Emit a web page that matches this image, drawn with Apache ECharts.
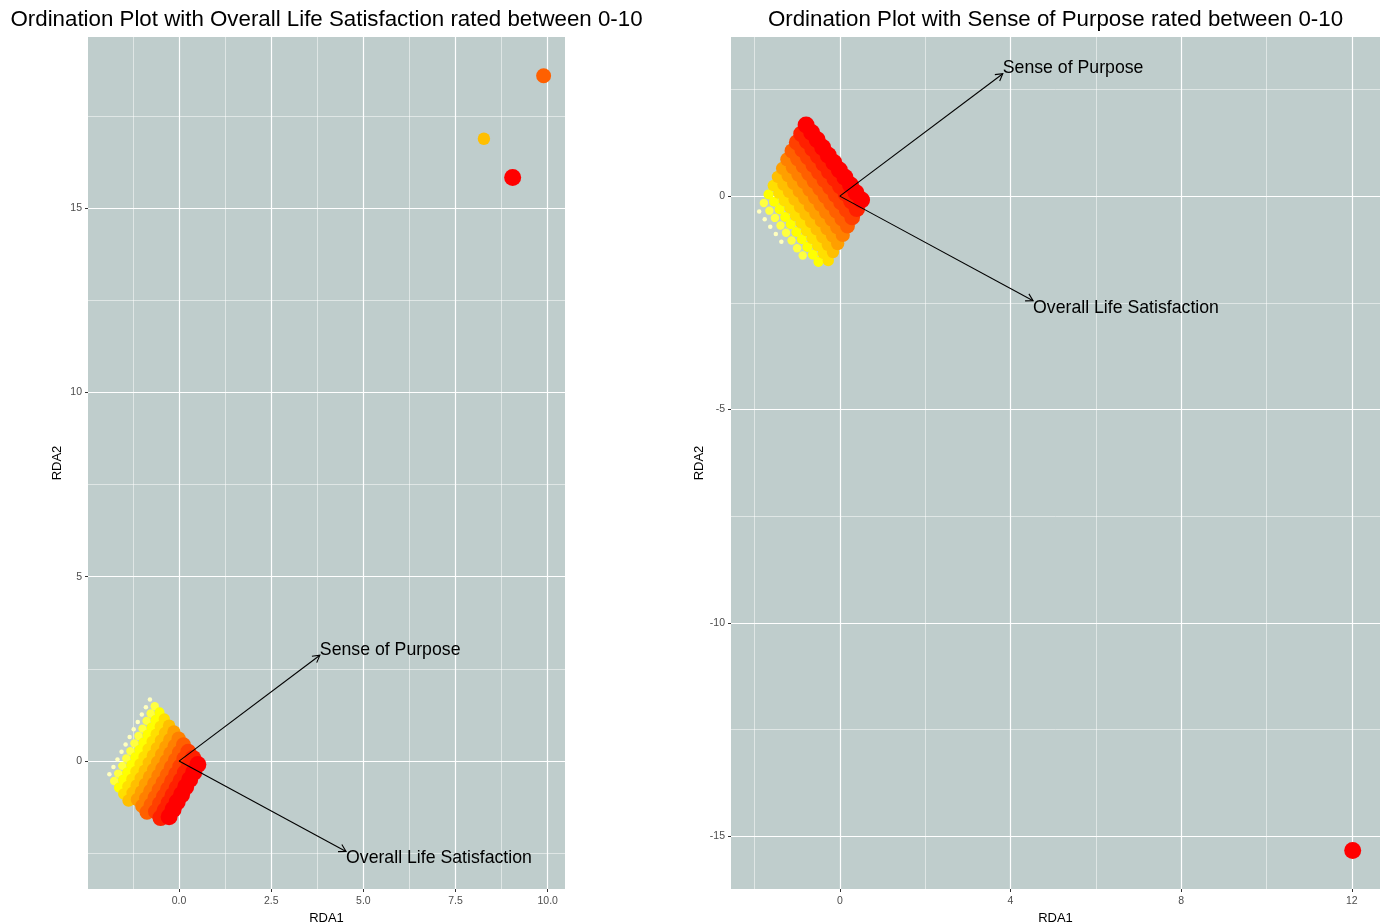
<!DOCTYPE html>
<html>
<head>
<meta charset="utf-8">
<script src="https://cdn.jsdelivr.net/npm/echarts@6.0.0/dist/echarts.min.js"></script>
<style>
  html, body { margin: 0; padding: 0; background: #ffffff; }
  #chart { width: 1389px; height: 924px; }
</style>
</head>
<body>
<div id="chart"></div>
<script>
// ---- Site scores (RDA1, RDA2) with the two ratings of each site ----
// Rows grouped by Sense of Purpose rating (0..10)
const SITE_SP = [
  0, 0, 0, 0, 0,
  1, 1, 1, 1, 1, 1, 1, 1,
  2, 2, 2, 2, 2, 2, 2, 2, 2, 2,
  3, 3, 3, 3, 3, 3, 3, 3, 3, 3, 3,
  4, 4, 4, 4, 4, 4, 4, 4, 4, 4, 4,
  5, 5, 5, 5, 5, 5, 5, 5, 5, 5, 5,
  6, 6, 6, 6, 6, 6, 6, 6, 6, 6, 6,
  7, 7, 7, 7, 7, 7, 7, 7, 7, 7, 7,
  8, 8, 8, 8, 8, 8, 8, 8, 8, 8, 8,
  9, 9, 9, 9, 9, 9, 9, 9, 9, 9, 9,
  10, 10, 10, 10, 10, 10, 10, 10, 10, 10, 10
];
const SITE_LS = [
  0, 1, 2, 3, 4,
  0, 1, 2, 3, 4, 5, 6, 7,
  0, 1, 2, 3, 4, 5, 6, 7, 8, 9,
  0, 1, 2, 3, 4, 5, 6, 7, 8, 9, 10,
  0, 1, 2, 3, 4, 5, 6, 7, 8, 9, 10,
  0, 1, 2, 3, 4, 5, 6, 7, 8, 9, 10,
  0, 1, 2, 3, 4, 5, 6, 7, 8, 9, 10,
  0, 1, 2, 3, 4, 5, 6, 7, 8, 9, 10,
  0, 1, 2, 3, 4, 5, 6, 7, 8, 9, 10,
  0, 1, 2, 3, 4, 5, 6, 7, 8, 9, 10,
  0, 1, 2, 3, 4, 5, 6, 7, 8, 9, 10
];
const SITE_RDA1 = [
  -1.89, -1.76, -1.63, -1.50, -1.37,
  -1.78, -1.65, -1.52, -1.39, -1.26, -1.13, -1.00, -0.87,
  -1.67, -1.54, -1.41, -1.28, -1.15, -1.02, -0.89, -0.76, -0.63, -0.50,
  -1.56, -1.43, -1.30, -1.17, -1.04, -0.91, -0.78, -0.65, -0.52, -0.39, -0.27,
  -1.45, -1.32, -1.19, -1.06, -0.93, -0.80, -0.67, -0.54, -0.41, -0.28, -0.16,
  -1.34, -1.21, -1.08, -0.95, -0.82, -0.69, -0.56, -0.43, -0.30, -0.17, -0.05,
  -1.23, -1.10, -0.97, -0.84, -0.71, -0.58, -0.45, -0.32, -0.19, -0.06, 0.07,
  -1.12, -0.99, -0.86, -0.73, -0.60, -0.47, -0.34, -0.21, -0.08, 0.05, 0.18,
  -1.01, -0.88, -0.75, -0.62, -0.49, -0.36, -0.23, -0.10, 0.03, 0.16, 0.29,
  -0.90, -0.77, -0.64, -0.51, -0.38, -0.25, -0.12, 0.01, 0.14, 0.27, 0.40,
  -0.79, -0.66, -0.53, -0.40, -0.27, -0.14, -0.01, 0.12, 0.25, 0.38, 0.51
];
const SITE_RDA2 = [
  -0.36, -0.54, -0.72, -0.89, -1.07,
  -0.16, -0.34, -0.51, -0.69, -0.86, -1.04, -1.22, -1.39,
  0.04, -0.13, -0.31, -0.49, -0.66, -0.84, -1.01, -1.19, -1.37, -1.54,
  0.25, 0.07, -0.11, -0.28, -0.46, -0.63, -0.81, -0.99, -1.16, -1.34, -1.51,
  0.45, 0.27, 0.10, -0.08, -0.26, -0.43, -0.61, -0.78, -0.96, -1.14, -1.31,
  0.65, 0.48, 0.30, 0.12, -0.05, -0.23, -0.40, -0.58, -0.76, -0.93, -1.11,
  0.86, 0.68, 0.50, 0.33, 0.15, -0.03, -0.20, -0.38, -0.55, -0.73, -0.91,
  1.06, 0.88, 0.71, 0.53, 0.35, 0.18, 0.00, -0.17, -0.35, -0.53, -0.70,
  1.26, 1.09, 0.91, 0.73, 0.56, 0.38, 0.21, 0.03, -0.15, -0.32, -0.50,
  1.46, 1.29, 1.11, 0.94, 0.76, 0.58, 0.41, 0.23, 0.06, -0.12, -0.30,
  1.67, 1.49, 1.32, 1.14, 0.96, 0.79, 0.61, 0.44, 0.26, 0.08, -0.09
];

// Far-out sites of each ordination
const EXTRA_LS_RDA1 = [8.27, 9.05, 9.89];
const EXTRA_LS_RDA2 = [16.88, 15.83, 18.59];
const EXTRA_LS_RATING = [4, 10, 7];
const EXTRA_SP_RDA1 = [12.02];
const EXTRA_SP_RDA2 = [-15.34];
const EXTRA_SP_RATING = [10];

// Biplot arrows for the two explanatory variables
const ARROW_NAMES = ['Sense of Purpose', 'Overall Life Satisfaction'];
const ARROW_RDA1 = [3.82, 4.53];
const ARROW_RDA2 = [2.87, -2.45];
const ARROW_LABEL_RDA2 = [3.01, -2.62];

// Axis ranges and tick values
const LEFT_X_RANGE = [-2.47, 10.47];
const LEFT_Y_RANGE = [-3.47, 19.64];
const LEFT_X_TICKS = [0, 2.5, 5, 7.5, 10];
const LEFT_X_MINOR = [-1.25, 1.25, 3.75, 6.25, 8.75];
const LEFT_Y_TICKS = [0, 5, 10, 15];
const LEFT_Y_MINOR = [-2.5, 2.5, 7.5, 12.5, 17.5];
const RIGHT_X_RANGE = [-2.55, 12.66];
const RIGHT_Y_RANGE = [-16.24, 3.73];
const RIGHT_X_TICKS = [0, 4, 8, 12];
const RIGHT_X_MINOR = [-2, 2, 6, 10];
const RIGHT_Y_TICKS = [-15, -10, -5, 0];
const RIGHT_Y_MINOR = [-12.5, -7.5, -2.5, 2.5];

const TITLES = [
  'Ordination Plot with Overall Life Satisfaction rated between 0-10',
  'Ordination Plot with Sense of Purpose rated between 0-10'
];

// Rating colour scale (heat colours, low = pale yellow, high = red)
const HEAT = ['#FFFFBF', '#FFFF40', '#FFFF00', '#FFDF00', '#FFBF00', '#FF9F00',
              '#FF8000', '#FF6000', '#FF4000', '#FF2000', '#FF0000'];

const FONT = '"Liberation Sans", Arial, Helvetica, sans-serif';
const PANEL_BG = '#BFCDCC';

function pointSize(rating) {
  return 4.5 + 12.5 * Math.sqrt(rating / 10);
}

function buildPoints(xs, ys, ratings) {
  const idx = xs.map((_, i) => i);
  idx.sort((a, b) => ratings[a] - ratings[b]);
  return idx.map(i => ({
    value: [xs[i], ys[i]],
    symbolSize: pointSize(ratings[i]),
    itemStyle: { color: HEAT[ratings[i]], opacity: 1 }
  }));
}

const leftPoints = buildPoints(
  SITE_RDA1.concat(EXTRA_LS_RDA1),
  SITE_RDA2.concat(EXTRA_LS_RDA2),
  SITE_LS.concat(EXTRA_LS_RATING));
const rightPoints = buildPoints(
  SITE_RDA1.concat(EXTRA_SP_RDA1),
  SITE_RDA2.concat(EXTRA_SP_RDA2),
  SITE_SP.concat(EXTRA_SP_RATING));

const arrowData = ARROW_NAMES.map((n, i) => [ARROW_RDA1[i], ARROW_RDA2[i], ARROW_LABEL_RDA2[i]]);

function majorAxis(dim, gridIndex, range, ticks, fmt, name) {
  const isX = dim === 'x';
  return {
    type: 'value',
    gridIndex: gridIndex,
    position: isX ? 'bottom' : 'left',
    min: range[0],
    max: range[1],
    name: name,
    nameLocation: 'middle',
    nameGap: isX ? 21 : 24,
    nameRotate: isX ? 0 : 90,
    nameTextStyle: { fontFamily: FONT, fontSize: 13, color: '#000000' },
    axisLine: { show: false, onZero: false },
    axisTick: { show: true, length: 3, customValues: ticks,
                lineStyle: { color: '#333333', width: 1 } },
    axisLabel: { show: true, customValues: ticks, margin: isX ? 7 : 6,
                 fontFamily: FONT, fontSize: 10.5, color: '#4D4D4D',
                 formatter: fmt },
    splitLine: { show: true, lineStyle: { color: '#FFFFFF', width: 1.2 } },
    minorTick: { show: false },
    minorSplitLine: { show: false },
    z: 0
  };
}

function minorAxis(dim, gridIndex, range, ticks) {
  const isX = dim === 'x';
  return {
    type: 'value',
    gridIndex: gridIndex,
    position: isX ? 'bottom' : 'left',
    min: range[0],
    max: range[1],
    axisLine: { show: false, onZero: false },
    axisTick: { show: false, customValues: ticks },
    axisLabel: { show: false, customValues: ticks },
    splitLine: { show: true, lineStyle: { color: '#FFFFFF', width: 0.5 } },
    z: 0
  };
}

const fmtOneDecimal = v => Number(v).toFixed(1);
const fmtInt = v => String(Math.round(v));

function arrowRender(params, api) {
  const o = api.coord([0, 0]);
  const t = api.coord([api.value(0), api.value(1)]);
  const lp = api.coord([api.value(0), api.value(2)]);
  const ang = Math.atan2(t[1] - o[1], t[0] - o[0]);
  const len = 8, spread = Math.PI / 6;
  const h1 = [t[0] - len * Math.cos(ang - spread), t[1] - len * Math.sin(ang - spread)];
  const h2 = [t[0] - len * Math.cos(ang + spread), t[1] - len * Math.sin(ang + spread)];
  return {
    type: 'group',
    children: [
      { type: 'line', shape: { x1: o[0], y1: o[1], x2: t[0], y2: t[1] },
        style: { stroke: '#000000', lineWidth: 1.1 } },
      { type: 'polyline', shape: { points: [h1, t, h2] },
        style: { stroke: '#000000', lineWidth: 1.1, fill: null } },
      { type: 'text', x: lp[0], y: lp[1],
        style: { text: ARROW_NAMES[params.dataIndex], textAlign: 'left',
                 textVerticalAlign: 'middle', fontFamily: FONT, fontSize: 17.7,
                 fill: '#000000' } }
    ]
  };
}

const chart = echarts.init(document.getElementById('chart'), null, { renderer: 'canvas' });

chart.setOption({
  animation: false,
  backgroundColor: '#FFFFFF',
  grid: [
    { left: 88, top: 37, width: 477, height: 852, show: true,
      backgroundColor: PANEL_BG, borderWidth: 0, containLabel: false,
      outerBoundsMode: 'none' },
    { left: 731, top: 37, width: 649, height: 852, show: true,
      backgroundColor: PANEL_BG, borderWidth: 0, containLabel: false,
      outerBoundsMode: 'none' }
  ],
  graphic: TITLES.map((t, i) => ({
    type: 'text',
    x: i === 0 ? 326.5 : 1055.5,
    y: 19.5,
    silent: true,
    style: { text: t, textAlign: 'center', textVerticalAlign: 'middle',
             fontFamily: FONT, fontSize: 22.3, fill: '#000000' }
  })),
  xAxis: [
    majorAxis('x', 0, LEFT_X_RANGE, LEFT_X_TICKS, fmtOneDecimal, 'RDA1'),
    minorAxis('x', 0, LEFT_X_RANGE, LEFT_X_MINOR),
    majorAxis('x', 1, RIGHT_X_RANGE, RIGHT_X_TICKS, fmtInt, 'RDA1'),
    minorAxis('x', 1, RIGHT_X_RANGE, RIGHT_X_MINOR)
  ],
  yAxis: [
    majorAxis('y', 0, LEFT_Y_RANGE, LEFT_Y_TICKS, fmtInt, 'RDA2'),
    minorAxis('y', 0, LEFT_Y_RANGE, LEFT_Y_MINOR),
    majorAxis('y', 1, RIGHT_Y_RANGE, RIGHT_Y_TICKS, fmtInt, 'RDA2'),
    minorAxis('y', 1, RIGHT_Y_RANGE, RIGHT_Y_MINOR)
  ],
  series: [
    { type: 'scatter', xAxisIndex: 0, yAxisIndex: 0, data: leftPoints,
      symbol: 'circle', silent: true, z: 2 },
    { type: 'scatter', xAxisIndex: 2, yAxisIndex: 2, data: rightPoints,
      symbol: 'circle', silent: true, z: 2 },
    { type: 'custom', xAxisIndex: 0, yAxisIndex: 0, data: arrowData,
      renderItem: arrowRender, silent: true, z: 3, clip: false },
    { type: 'custom', xAxisIndex: 2, yAxisIndex: 2, data: arrowData,
      renderItem: arrowRender, silent: true, z: 3, clip: false }
  ]
});
</script>
</body>
</html>
